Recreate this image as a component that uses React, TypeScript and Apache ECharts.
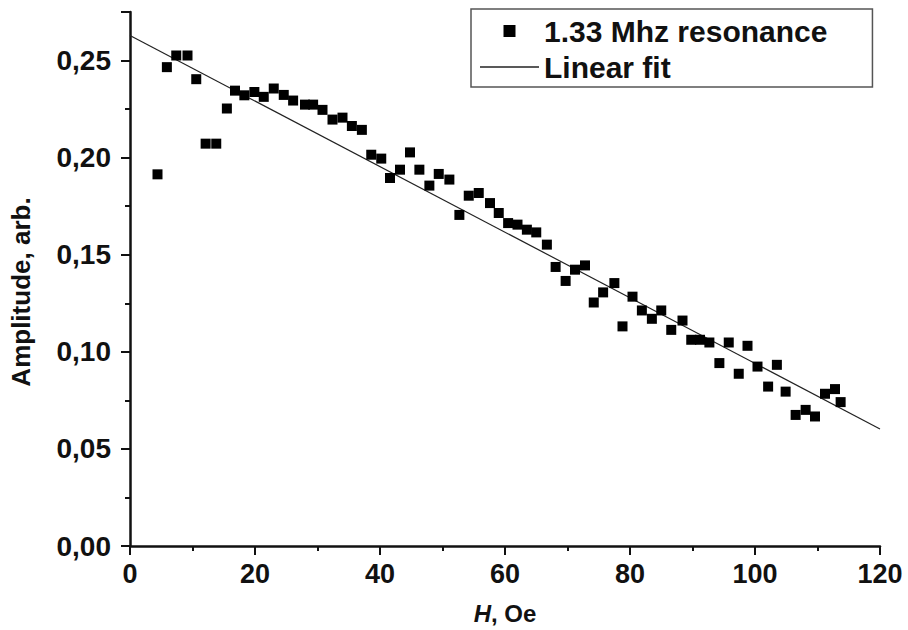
import React, { useEffect, useRef } from "react";
import * as echarts from "echarts";

const fieldH = [4.4, 5.9, 7.4, 9.2, 10.6, 12.1, 13.8, 15.5, 16.8, 18.3, 19.9, 21.4, 23.0, 24.6, 26.1, 28.0, 29.3, 30.8, 32.4, 34.0, 35.5, 37.1, 38.6, 40.2, 41.6, 43.2, 44.8, 46.3, 47.9, 49.4, 51.1, 52.7, 54.2, 55.8, 57.6, 59.0, 60.5, 62.0, 63.5, 65.0, 66.7, 68.1, 69.7, 71.2, 72.8, 74.2, 75.7, 77.5, 78.8, 80.4, 81.9, 83.5, 85.0, 86.6, 88.4, 89.8, 91.2, 92.7, 94.3, 95.8, 97.4, 98.8, 100.4, 102.1, 103.5, 104.9, 106.5, 108.1, 109.6, 111.2, 112.8, 113.7];
const amplitude = [0.1914, 0.2466, 0.2526, 0.2526, 0.2404, 0.2072, 0.2072, 0.2253, 0.2345, 0.2321, 0.2338, 0.2313, 0.2356, 0.2323, 0.2294, 0.2273, 0.2273, 0.2246, 0.2196, 0.2206, 0.2163, 0.2143, 0.2015, 0.1995, 0.1895, 0.1938, 0.2027, 0.1938, 0.1856, 0.1916, 0.1887, 0.1705, 0.1804, 0.1818, 0.1766, 0.1715, 0.1663, 0.1655, 0.1629, 0.1615, 0.1552, 0.1437, 0.1365, 0.1423, 0.1445, 0.1254, 0.1306, 0.1354, 0.1131, 0.1284, 0.1213, 0.117, 0.1213, 0.1113, 0.1161, 0.1062, 0.1062, 0.1048, 0.0942, 0.1048, 0.0887, 0.1031, 0.0924, 0.0821, 0.0933, 0.0795, 0.0675, 0.0701, 0.0667, 0.0784, 0.0808, 0.0741];
const fitH = [0, 120];
const fitAmplitude = [0.2629, 0.0603];

const seriesNames = ["1.33 Mhz resonance", "Linear fit"];
const FONT = "'Liberation Sans', Arial, sans-serif";

export default function App() {
  const ref = useRef<HTMLDivElement>(null);
  useEffect(() => {
    if (!ref.current) return;
    const chart = echarts.init(ref.current, undefined, { renderer: "svg" });
    const axisCommon = {
      axisLine: { show: true, onZero: false, lineStyle: { color: "#111", width: 2.5 } },
      axisTick: { show: true, inside: false, length: 9, lineStyle: { color: "#111", width: 2 } },
      minorTick: { show: true, splitNumber: 2, length: 5, lineStyle: { color: "#111", width: 2 } },
      splitLine: { show: false },
    };
    chart.setOption({
      animation: false,
      backgroundColor: "#fff",
      textStyle: { fontFamily: FONT },
      grid: { left: 130, right: 28, top: 12, bottom: 84, containLabel: false },
      legend: {
        orient: "vertical",
        left: 471,
        top: 9,
        itemWidth: 59,
        itemHeight: 12,
        itemGap: 6,
        padding: [7, 45, 5, 9],
        borderColor: "#555",
        borderWidth: 1.5,
        textStyle: { fontFamily: FONT, fontWeight: "bold", fontSize: 30, color: "#111" },
        data: [
          { name: seriesNames[0], icon: "path://M0,0 L10,0 L10,10 L0,10 Z" },
          { name: seriesNames[1], icon: "path://M0,0 L59,0 L59,1.3 L0,1.3 Z", itemStyle: { color: "#222" } },
        ],
      },
      xAxis: {
        type: "value",
        min: 0,
        max: 120,
        interval: 20,
        ...axisCommon,
        axisLabel: { margin: 14, fontFamily: FONT, fontWeight: "bold", fontSize: 27, color: "#111" },
        name: "{i|H}, Oe",
        nameLocation: "middle",
        nameGap: 55,
        nameTextStyle: {
          fontFamily: FONT,
          fontWeight: "bold",
          fontSize: 24,
          color: "#111",
          rich: { i: { fontStyle: "italic", fontWeight: "bold", fontSize: 24, fontFamily: FONT, color: "#111" } },
        },
      },
      yAxis: {
        type: "value",
        min: 0,
        max: 0.275,
        interval: 0.05,
        ...axisCommon,
        axisLabel: {
          margin: 19,
          showMaxLabel: false,
          fontFamily: FONT,
          fontWeight: "bold",
          fontSize: 28,
          color: "#111",
          formatter: (v: number) => {
            const r = Math.round(v * 1000) / 1000;
            if (Math.abs(r / 0.05 - Math.round(r / 0.05)) > 1e-6) return "";
            return r.toFixed(2).replace(".", ",");
          },
        },
        name: "Amplitude, arb.",
        nameLocation: "middle",
        nameGap: 96,
        nameTextStyle: { fontFamily: FONT, fontWeight: "bold", fontSize: 26, color: "#111", padding: [0, 26, 0, 0] },
      },
      series: [
        {
          name: seriesNames[0],
          type: "scatter",
          symbol: "rect",
          symbolSize: 10,
          itemStyle: { color: "#000", opacity: 1 },
          data: fieldH.map((h, i) => [h, amplitude[i]]),
          z: 3,
        },
        {
          name: seriesNames[1],
          type: "line",
          showSymbol: false,
          symbol: "none",
          lineStyle: { color: "#222", width: 1.2 },
          itemStyle: { color: "#222" },
          data: fitH.map((h, i) => [h, fitAmplitude[i]]),
          z: 2,
        },
      ],
    });
    return () => chart.dispose();
  }, []);
  return <div ref={ref} style={{ width: 908, height: 630, position: "absolute", left: 0, top: 0 }} />;
}
